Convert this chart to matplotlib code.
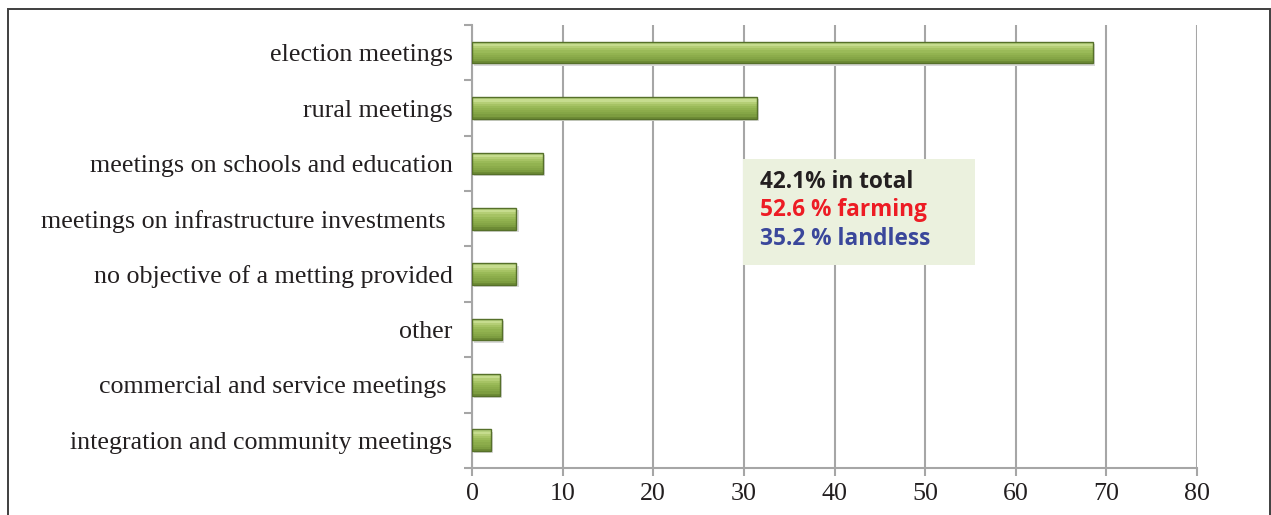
import numpy as np
import matplotlib.pyplot as plt
from matplotlib.patches import Rectangle

# meeting objectives, top to bottom
categories = ["election meetings", "rural meetings", "meetings on schools and education",
              "meetings on infrastructure investments ", "no objective of a metting provided",
              "other", "commercial and service meetings ", "integration and community meetings"]
values = [68.5, 31.4, 7.8, 4.9, 4.9, 3.3, 3.1, 2.1]
xticks = [0, 10, 20, 30, 40, 50, 60, 70, 80]
note_lines = ["42.1% in total", "52.6 % farming", "35.2 % landless"]
note_colors = ["#231f20", "#ed1c24", "#3a479b"]

fig = plt.figure(figsize=(12.71, 5.15), dpi=100)
ax = fig.add_axes([0.3714, 0.0913, 0.5704, 0.8602])

# outer frame round the whole figure
fig.patches.append(Rectangle((8 / 1271, -0.1), 1262 / 1271, 1.1 - 9 / 515,
                             transform=fig.transFigure, fill=False,
                             edgecolor="#3f3f3f", linewidth=1.4))

y = np.arange(len(categories))
h = 0.39

# shadow under the bars
ax.barh(y + 0.04, values, height=h, left=0.25, color="#d9d9d9", zorder=2)

# green bars built from horizontal strips, light on top, dark at the bottom
shades = ["#b4cf7c", "#c6dc8e", "#b4ce75", "#a6c364", "#9aba58",
          "#92b350", "#8cac4b", "#85a646", "#7d9d40", "#6d8b35"]
n = len(shades)
for k, c in enumerate(shades):
    off = -h / 2 + (k + 0.5) * h / n
    ax.barh(y + off, values, height=h / n + 0.002, color=c, linewidth=0, zorder=3)
ax.barh(y, values, height=h, fill=False, edgecolor="#56702a", linewidth=1.0, zorder=4)

ax.set_xlim(0, 80)
ax.set_ylim(len(categories) - 0.5, -0.5)
ax.set_xticks(xticks)
ax.set_yticks(np.arange(len(categories) + 1) - 0.5, minor=False)
ax.set_yticklabels([])
ax.set_yticks(y, minor=True)
ax.set_yticklabels(categories, minor=True, family="Liberation Serif", fontsize=18.7,
                   color="#231f20")
ax.tick_params(axis="y", which="minor", length=0, pad=14)
ax.tick_params(axis="y", which="major", length=6, color="#a6a6a6", width=1.5)
ax.tick_params(axis="x", length=6, color="#a6a6a6", width=1.5, pad=5,
               labelsize=18.7, labelcolor="#231f20")
for lab in ax.get_xticklabels():
    lab.set_family("Liberation Serif")

ax.grid(axis="x", color="#a6a6a6", linewidth=1.5, zorder=1)
ax.set_axisbelow(True)
for s in ["top", "right"]:
    ax.spines[s].set_visible(False)
for s in ["left", "bottom"]:
    ax.spines[s].set_color("#a6a6a6")
    ax.spines[s].set_linewidth(1.5)

# note box
ax.add_patch(Rectangle((0.374, 0.458), 0.32, 0.239, transform=ax.transAxes,
                       facecolor="#ebf1de", edgecolor="none", zorder=5))
for i, (t, c) in enumerate(zip(note_lines, note_colors)):
    ax.text(0.397, 0.645 - i * 0.0635, t, transform=ax.transAxes, color=c,
            fontsize=16.3, fontweight="bold", family="Open Sans", va="center",
            zorder=6)

fig.savefig("out.png", dpi=100)
